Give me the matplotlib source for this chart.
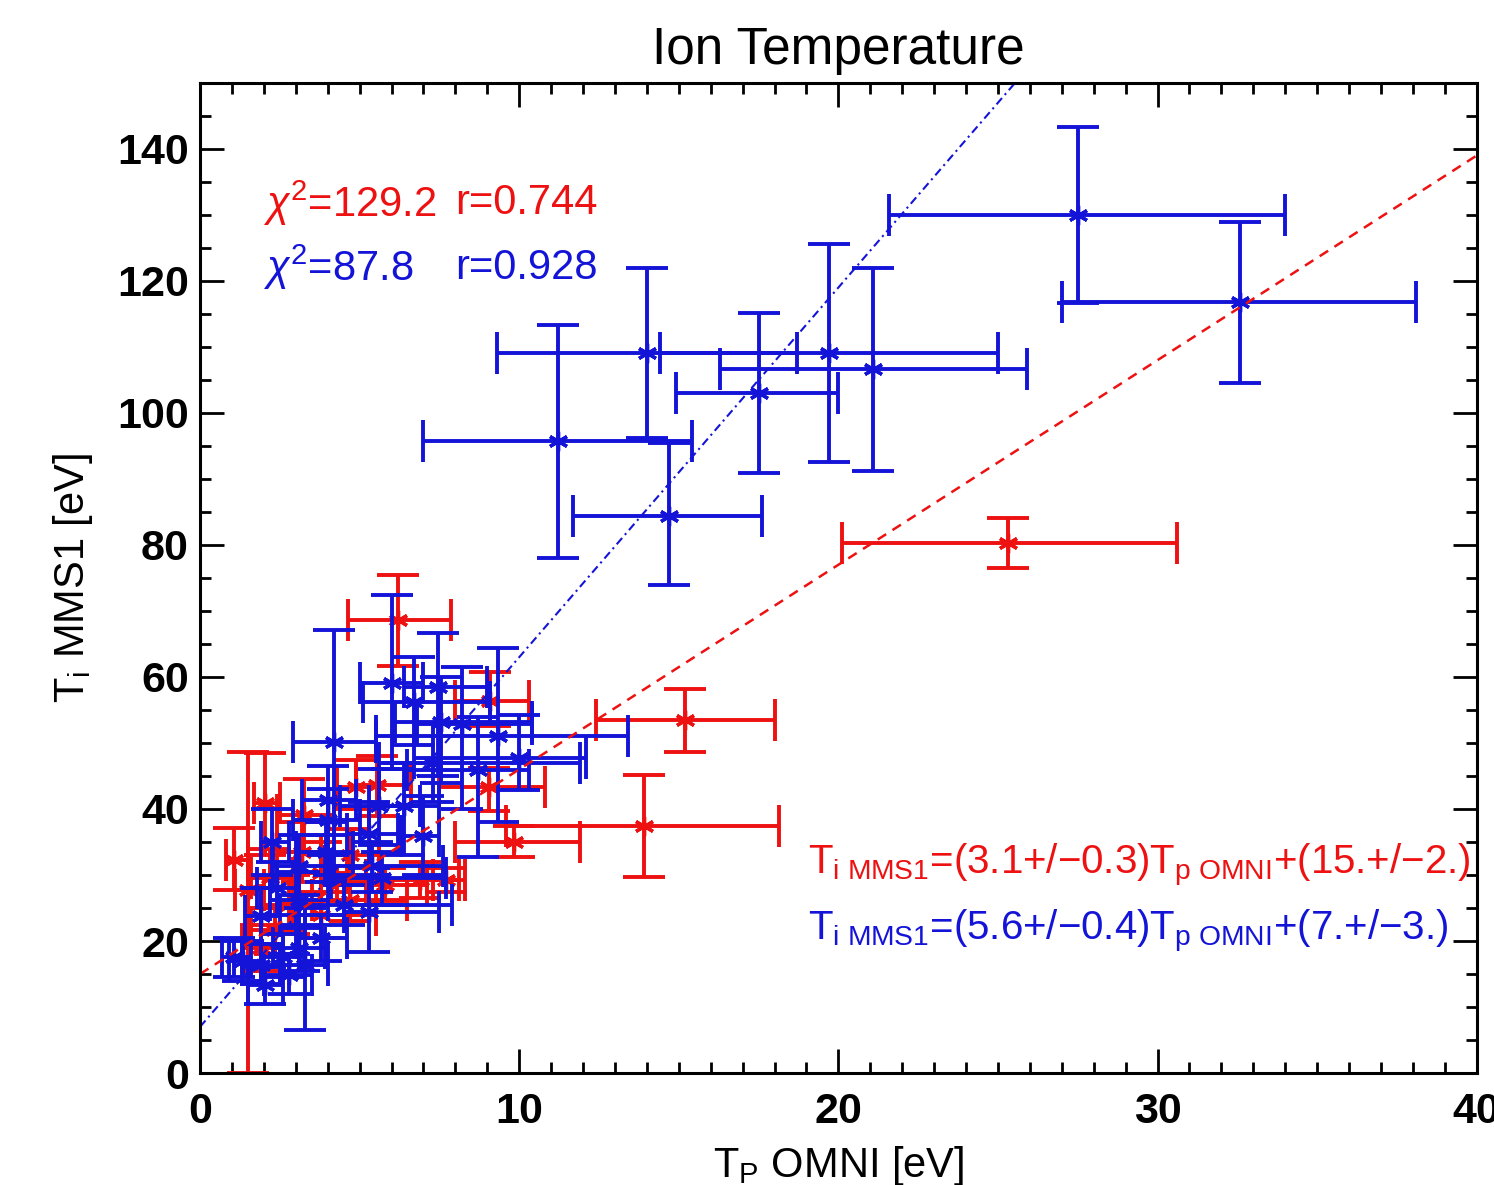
import numpy as np
import matplotlib
matplotlib.use("Agg")
import matplotlib.pyplot as plt

plt.rcParams['font.family'] = ['Liberation Sans', 'DejaVu Sans']
plt.rcParams['mathtext.fontset'] = 'custom'
plt.rcParams['mathtext.rm'] = 'Liberation Sans'
plt.rcParams['mathtext.it'] = 'Liberation Sans:italic'
plt.rcParams['mathtext.bf'] = 'Liberation Sans:bold'

# red series: x, y and the ends of the error bars (lower / upper)
red_x = [6.2, 9.1, 4.9, 5.55, 9.05, 2.05, 3.25, 1.05, 1.5, 7.7, 2.2, 3.8, 2.8, 3.8, 4.7,
         6.9, 9.85, 13.9, 15.2, 25.3, 4.7, 2.35, 1.9, 3.2, 5.8]
red_y = [68.6, 56.3, 43.4, 43.6, 43.4, 40.9, 39.1, 32.3, 27.7, 29.2, 29.5, 30.3, 25.5, 24.0, 33.0,
         29.2, 35.0, 37.4, 53.5, 80.3, 26.2, 21.7, 19.0, 33.5, 28.5]
red_xlo = [4.65, 8.0, 4.3, 4.9, 7.5, 1.7, 2.4, 0.8, 1.1, 7.3, 1.6, 3.0, 1.9, 2.9, 3.8,
           5.2, 8.0, 9.6, 12.4, 20.1, 3.5, 1.6, 1.3, 2.4, 4.3]
red_xhi = [7.85, 10.3, 5.6, 6.6, 10.8, 2.5, 4.2, 1.5, 2.0, 8.3, 2.9, 4.6, 3.8, 5.5, 5.6,
           8.1, 11.9, 18.15, 18.0, 30.6, 6.5, 3.3, 2.6, 4.0, 7.1]
red_ylo = [61.7, 52.5, 40.0, 39.0, 39.7, 33.0, 33.5, 27.7, 0.0, 27.5, 25.0, 26.0, 21.0, 20.5, 29.0,
           26.5, 32.8, 29.7, 48.6, 76.5, 23.0, 18.0, 15.5, 29.0, 26.0]
red_yhi = [75.5, 60.8, 47.4, 48.0, 46.2, 48.5, 44.5, 37.1, 48.6, 31.0, 34.0, 35.0, 30.0, 27.5, 37.0,
           32.0, 37.5, 45.2, 58.2, 84.1, 29.5, 25.0, 22.5, 38.0, 31.0]

# blue series
blue_x = [11.2, 14.0, 14.7, 17.5, 19.7, 21.1, 27.5, 32.6,
          6.0, 6.7, 7.45, 7.55, 8.2, 9.35, 10.0, 7.3, 8.7, 4.2, 5.6, 6.4, 7.0, 5.3, 4.0, 4.0,
          5.4, 5.7, 5.3, 2.25, 3.1, 3.95, 3.1, 1.9, 1.35, 1.9, 2.6, 3.1, 3.8, 1.05, 2.05, 2.8,
          3.3, 2.4, 4.5]
blue_y = [95.7, 109.1, 84.4, 103.0, 109.1, 106.7, 130.0, 116.8,
          59.1, 56.2, 58.5, 53.2, 52.9, 51.0, 47.7, 47.0, 45.9, 50.2, 40.5, 40.5, 35.9, 36.2, 41.4, 38.3,
          31.4, 29.5, 24.4, 35.0, 31.4, 33.5, 26.2, 23.8, 17.0, 16.4, 17.6, 19.0, 20.5, 17.6, 13.3, 14.8,
          16.4, 28.0, 25.5]
blue_xlo = [7.0, 9.3, 11.7, 14.9, 14.4, 16.3, 21.6, 27.0,
            5.0, 5.1, 6.4, 6.1, 6.8, 5.5, 6.7, 5.6, 6.5, 2.9, 4.4, 5.3, 6.3, 4.6, 3.2, 2.9,
            4.0, 4.1, 4.5, 1.9, 2.3, 3.0, 2.2, 1.4, 0.9, 1.3, 1.9, 2.3, 3.0, 0.7, 1.5, 2.0,
            2.5, 1.8, 3.0]
blue_xhi = [15.4, 18.7, 17.6, 20.0, 25.0, 25.9, 34.0, 38.1,
            7.0, 9.1, 9.0, 10.4, 10.4, 13.4, 12.1, 11.9, 10.3, 5.5, 6.9, 7.5, 7.5, 6.2, 4.9, 5.0,
            7.6, 7.7, 7.5, 2.8, 3.9, 4.8, 4.0, 2.5, 1.9, 2.5, 3.3, 3.9, 4.6, 1.6, 2.6, 3.5,
            4.0, 3.0, 7.9]
blue_ylo = [78.0, 96.2, 73.9, 90.9, 92.6, 91.2, 116.7, 104.5,
            46.0, 49.7, 45.0, 44.0, 40.0, 38.0, 42.9, 41.0, 32.8, 30.0, 34.5, 33.0, 30.0, 31.0, 36.0, 33.0,
            27.5, 25.5, 18.4, 30.0, 27.0, 29.0, 22.0, 19.5, 14.0, 13.5, 14.5, 15.5, 17.0, 14.5, 10.5, 12.0,
            6.5, 24.0, 22.5]
blue_yhi = [113.3, 122.0, 95.5, 115.2, 125.6, 122.0, 143.3, 128.9,
            72.4, 63.0, 66.6, 60.0, 61.5, 64.4, 54.2, 53.0, 54.0, 67.1, 46.0, 47.0, 42.0, 41.0, 46.5, 43.0,
            35.0, 33.5, 30.0, 40.0, 36.0, 38.0, 30.5, 28.0, 20.0, 19.5, 21.0, 22.5, 24.0, 20.5, 16.0, 18.0,
            25.0, 32.0, 28.5]

# linear fits (slope, intercept)
red_fit = (3.1, 15.0)
blue_fit = (5.6, 7.0)

RED = '#ee1111'
BLUE = '#1414d8'


def draw_series(ax, x, y, xlo, xhi, ylo, yhi, color):
    x = np.array(x)
    y = np.array(y)
    xerr = [x - np.array(xlo), np.array(xhi) - x]
    yerr = [y - np.array(ylo), np.array(yhi) - y]
    ax.errorbar(x, y, xerr=xerr, yerr=yerr, fmt='none', ecolor=color,
                elinewidth=2.8, capsize=15, capthick=2.8)
    ax.plot(x, y, linestyle='none', marker=(6, 2, 0), markersize=14,
            markeredgewidth=2.4, color=color)


fig = plt.figure(figsize=(14.94, 11.85), dpi=100)
ax = fig.add_axes([0.1339, 0.0945, 0.8545, 0.8355])

draw_series(ax, red_x, red_y, red_xlo, red_xhi, red_ylo, red_yhi, RED)
draw_series(ax, blue_x, blue_y, blue_xlo, blue_xhi, blue_ylo, blue_yhi, BLUE)

xx = np.array([0, 40])
ax.plot(xx, red_fit[0] * xx + red_fit[1], color=RED, linestyle=(0, (4, 3)), linewidth=1.8)
ax.plot(xx, blue_fit[0] * xx + blue_fit[1], color=BLUE, linestyle=(0, (4, 2, 1, 2)), linewidth=1.5)

ax.set_xlim(0, 40)
ax.set_ylim(0, 150)
ax.set_xticks([0, 10, 20, 30, 40])
ax.set_xticks(np.arange(0, 41, 1), minor=True)
ax.set_yticks(np.arange(0, 141, 20))
ax.set_yticks(np.arange(0, 151, 5), minor=True)
ax.tick_params(which='both', direction='in', top=True, right=True, width=2.0)
ax.tick_params(which='major', length=17, labelsize=31)
ax.tick_params(which='minor', length=8)
ax.tick_params(axis='x', which='major', pad=14)
ax.tick_params(axis='y', which='major', pad=8)
for lab in ax.get_xticklabels() + ax.get_yticklabels():
    lab.set_fontweight('bold')
for sp in ax.spines.values():
    sp.set_linewidth(2.2)

ax.set_title('Ion Temperature', fontsize=37, pad=14)
ax.set_xlabel(r'T$_{\rm P}$ OMNI [eV]', fontsize=30, labelpad=8)
ax.set_ylabel(r'T$_{\rm i}$ MMS1 [eV]', fontsize=30, labelpad=16)

ax.text(1.97, 131.8, r'$\chi^2$=129.2', color=RED, fontsize=30, va='center')
ax.text(8.0, 131.8, 'r=0.744', color=RED, fontsize=30, va='center')
ax.text(1.97, 122.0, r'$\chi^2$=87.8', color=BLUE, fontsize=30, va='center')
ax.text(8.0, 122.0, 'r=0.928', color=BLUE, fontsize=30, va='center')

ax.text(19.06, 31.5, r'T$_{\rm i\ MMS1}$=(3.1+/$-$0.3)T$_{\rm p\ OMNI}$+(15.+/$-$2.)',
        color=RED, fontsize=29, va='center')
ax.text(19.06, 21.4, r'T$_{\rm i\ MMS1}$=(5.6+/$-$0.4)T$_{\rm p\ OMNI}$+(7.+/$-$3.)',
        color=BLUE, fontsize=29, va='center')

fig.savefig('out.png', dpi=100)
